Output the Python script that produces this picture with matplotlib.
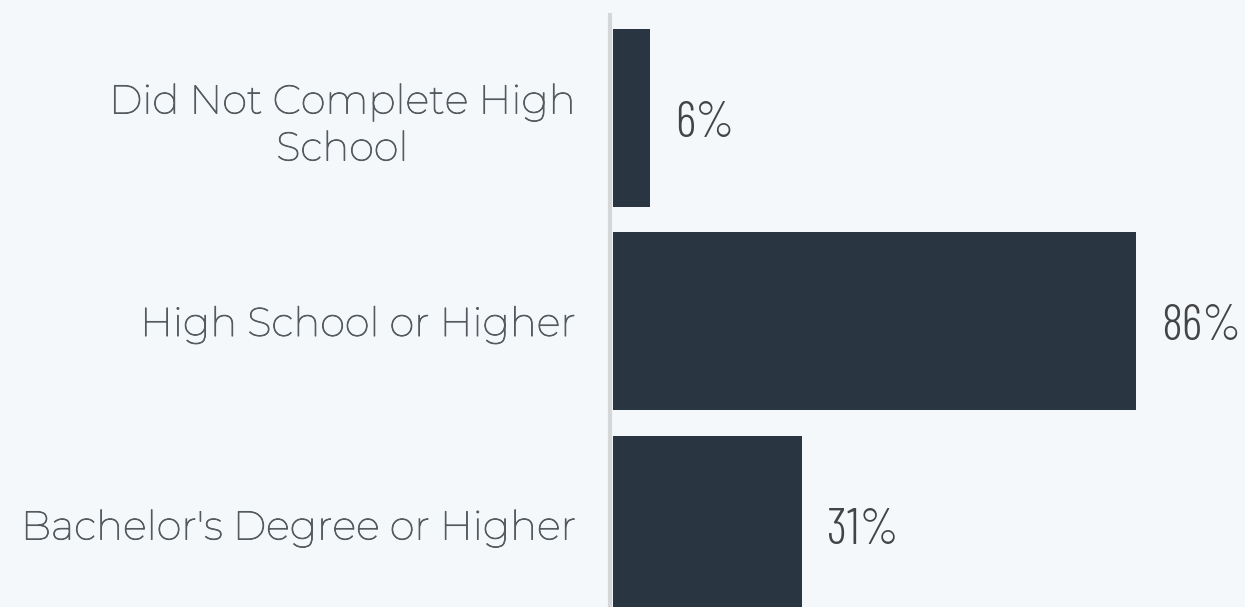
import matplotlib
matplotlib.use('Agg')
import matplotlib.pyplot as plt
import matplotlib.patheffects as pe
from matplotlib import font_manager

categories = ['Did Not Complete High\nSchool', 'High School or Higher', "Bachelor's Degree or Higher"]
values = [6, 86, 31]
value_labels = ['6%', '86%', '31%']

bg = '#f4f8fb'
bar_color = '#293540'
label_color = '#545a5e'

names = {f.name for f in font_manager.fontManager.ttflist}
label_font = 'Montserrat' if 'Montserrat' in names else 'DejaVu Sans'
num_font = 'Barlow Condensed' if 'Barlow Condensed' in names else 'DejaVu Sans'

W, H = 1245, 607
fig = plt.figure(figsize=(W / 100, H / 100), dpi=100, facecolor=bg)
ax = fig.add_axes([610 / W, 0, (W - 610) / W, 592 / H])
ax.set_facecolor(bg)

y = list(range(len(categories)))
ax.barh(y, values, height=0.875, color=bar_color, left=0.5)

for yi, v, lab in zip(y, values, value_labels):
    ax.text(v + 0.5 + 4.2, yi + 0.03, lab, va='center', ha='left', fontsize=36,
            color='#444444', family=[num_font, 'DejaVu Sans'], fontweight=300)

ax.set_xlim(0, (W - 610) / 6.08)
ax.set_ylim(2.405, -0.504)

ax.set_yticks(y)
ax.set_yticklabels(categories, fontsize=29, color=label_color, family=[label_font],
                   multialignment='center', linespacing=1.3)
for t in ax.get_yticklabels():
    t.set_path_effects([pe.withStroke(linewidth=0.6, foreground=label_color)])
ax.tick_params(axis='y', length=0, pad=25)
ax.set_xticks([])

for s in ['top', 'right', 'bottom']:
    ax.spines[s].set_visible(False)
ax.spines['left'].set_color('#d4d6d8')
ax.spines['left'].set_linewidth(3)

fig.savefig('out.png', dpi=100, facecolor=bg)
